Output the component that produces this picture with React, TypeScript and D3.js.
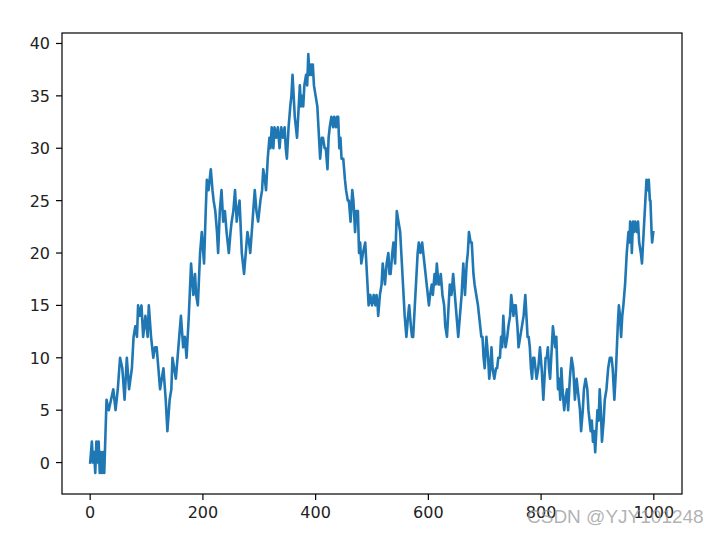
import * as d3 from "d3";

// random walk (step index, position)
const steps = [
  0, 3, 5, 7, 9, 11, 13, 15, 17, 19, 21, 23, 25, 29, 33, 37, 41, 45, 49, 53, 57, 61, 65, 69, 74, 77, 80, 83, 85, 88,
  91, 94, 98, 100, 102, 104, 108, 112, 115, 118, 121, 124, 127, 130, 134, 137, 141, 144, 146, 149, 152, 155, 158, 161, 165, 168, 171, 175, 179, 183,
  186, 188, 191, 195, 198, 202, 205, 207, 210, 214, 217, 219, 222, 225, 227, 230, 233, 236, 239, 242, 246, 249, 251, 254, 257, 260, 262, 265, 269, 273,
  276, 279, 282, 284, 288, 292, 295, 298, 302, 305, 307, 310, 312, 315, 318, 320, 322, 325, 327, 330, 333, 336, 339, 342, 345, 347, 349, 352, 355, 357,
  359, 361, 363, 365, 367, 370, 372, 374, 376, 378, 380, 383, 385, 387, 389, 390, 392, 393, 395, 397, 400, 403, 406, 408, 411, 413, 416, 418, 421, 423,
  425, 428, 431, 433, 436, 438, 440, 442, 444, 446, 449, 452, 454, 457, 459, 462, 465, 467, 470, 472, 475, 477, 479, 481, 484, 488, 491, 494, 497, 500,
  503, 506, 508, 510, 511, 514, 517, 519, 521, 523, 526, 529, 531, 533, 536, 538, 541, 544, 547, 550, 553, 555, 558, 561, 564, 566, 569, 571, 573, 576,
  579, 581, 583, 586, 589, 591, 593, 595, 597, 599, 601, 603, 606, 608, 611, 613, 615, 618, 620, 622, 625, 628, 630, 633, 635, 638, 641, 644, 647, 650,
  653, 656, 659, 662, 665, 668, 670, 672, 675, 677, 680, 682, 685, 688, 690, 692, 694, 696, 698, 700, 703, 706, 708, 710, 712, 714, 717, 720, 722, 724,
  727, 729, 731, 733, 735, 737, 740, 742, 745, 747, 749, 751, 753, 755, 758, 760, 763, 766, 769, 772, 774, 776, 778, 780, 782, 784, 786, 788, 790, 792,
  795, 798, 801, 804, 806, 808, 810, 812, 814, 816, 819, 821, 823, 825, 827, 830, 832, 834, 836, 838, 841, 843, 846, 848, 851, 854, 857, 860, 863, 865,
  867, 869, 871, 874, 876, 879, 882, 884, 886, 888, 890, 892, 894, 896, 898, 900, 902, 904, 906, 908, 911, 913, 916, 919, 922, 925, 927, 930, 933, 936,
  938, 940, 942, 944, 946, 949, 952, 955, 957, 958, 960, 961, 963, 965, 967, 970, 972, 974, 977, 979, 982, 985, 987, 989, 991, 993, 994, 996, 997, 999,
];
const walk = [
  0, 2, 0, 1, -1, 2, 0, 2, -1, 1, -1, 1, -1, 6, 5, 6, 7, 5, 7, 10, 9, 6, 10, 7, 9, 12, 13, 12, 15, 14,
  15, 12, 14, 13, 12, 15, 12, 10, 11, 11, 9, 7, 8, 9, 6, 3, 6, 7, 10, 9, 8, 10, 12, 14, 11, 12, 10, 14, 19, 16,
  18, 16, 15, 20, 22, 19, 24, 27, 26, 28, 26, 25, 24, 22, 20, 24, 26, 23, 24, 22, 20, 22, 23, 24, 26, 23, 24, 25, 20, 18,
  20, 22, 21, 20, 23, 26, 24, 23, 25, 26, 28, 27, 26, 29, 31, 30, 32, 30, 32, 31, 32, 30, 32, 31, 32, 30, 29, 32, 34, 35,
  37, 35, 33, 32, 31, 34, 36, 34, 35, 34, 36, 37, 36, 39, 37, 37, 38, 37, 38, 36, 35, 34, 31, 29, 31, 31, 30, 30, 28, 31,
  32, 33, 32, 33, 32, 33, 33, 30, 31, 29, 29, 27, 26, 25, 25, 23, 26, 25, 22, 24, 24, 20, 21, 19, 20, 21, 18, 15, 16, 15,
  16, 15, 16, 15, 14, 16, 17, 19, 18, 17, 19, 20, 18, 18, 20, 21, 19, 24, 23, 22, 19, 17, 14, 12, 14, 15, 13, 12, 12, 15,
  18, 20, 21, 20, 21, 20, 19, 18, 17, 16, 15, 16, 17, 16, 18, 17, 19, 17, 17, 18, 16, 15, 13, 12, 14, 17, 16, 18, 16, 14,
  12, 14, 16, 19, 16, 19, 20, 22, 21, 21, 18, 17, 16, 15, 14, 13, 12, 12, 10, 9, 12, 10, 8, 9, 11, 9, 8, 9, 9, 10,
  10, 12, 11, 14, 12, 11, 12, 13, 14, 16, 15, 14, 15, 15, 13, 11, 12, 13, 14, 16, 14, 12, 12, 11, 9, 8, 10, 10, 9, 8,
  9, 11, 9, 6, 8, 10, 10, 11, 9, 8, 11, 13, 12, 11, 12, 7, 8, 6, 9, 7, 5, 6, 7, 5, 8, 10, 9, 6, 8, 7,
  6, 5, 3, 5, 7, 8, 7, 5, 4, 3, 4, 2, 3, 1, 3, 5, 4, 7, 5, 2, 4, 6, 7, 9, 10, 10, 9, 6, 9, 13,
  15, 14, 12, 14, 15, 17, 20, 22, 21, 23, 22, 20, 23, 22, 23, 22, 23, 21, 20, 19, 22, 25, 27, 26, 27, 25, 25, 22, 21, 22,
];
const xTicks = [0, 200, 400, 600, 800, 1000];
const yTicks = [0, 5, 10, 15, 20, 25, 30, 35, 40];

const W = 713;
const H = 536;
const left = 62, right = 682, top = 33, bottom = 494;

export default function App() {
  const x = d3.scaleLinear().domain([-50, 1050]).range([left, right]);
  const y = d3.scaleLinear().domain([-3, 41]).range([bottom, top]);
  const pts = steps.map((s, i) => [s, walk[i]] as [number, number]);
  const line = d3.line<[number, number]>().x((d) => x(d[0])).y((d) => y(d[1]));
  const font = "DejaVu Sans, sans-serif";

  return (
    <svg width={W} height={H} style={{ position: "fixed", left: 0, top: 0, background: "#fff" }}>
      <rect width={W} height={H} fill="#fff" />
      <path d={line(pts) ?? ""} fill="none" stroke="#1f77b4" strokeWidth={2.6} strokeLinejoin="round" strokeLinecap="square" />
      <rect x={left} y={top} width={right - left} height={bottom - top} fill="none" stroke="#000" strokeWidth={1.2} />
      {xTicks.map((t) => (
        <g key={"x" + t}>
          <line x1={x(t)} x2={x(t)} y1={bottom} y2={bottom + 6} stroke="#000" strokeWidth={1.2} />
          <text x={x(t)} y={bottom + 24} textAnchor="middle" fontSize={16} fontFamily={font} fill="#222">{t}</text>
        </g>
      ))}
      {yTicks.map((t) => (
        <g key={"y" + t}>
          <line x1={left - 6} x2={left} y1={y(t)} y2={y(t)} stroke="#000" strokeWidth={1.2} />
          <text x={left - 12} y={y(t) + 6} textAnchor="end" fontSize={16} fontFamily={font} fill="#222">{t}</text>
        </g>
      ))}
      <text x={527} y={523} fontSize={19} fontFamily="Liberation Sans, sans-serif" fill="#999" fillOpacity={0.75}>CSDN @YJY101248</text>
    </svg>
  );
}
